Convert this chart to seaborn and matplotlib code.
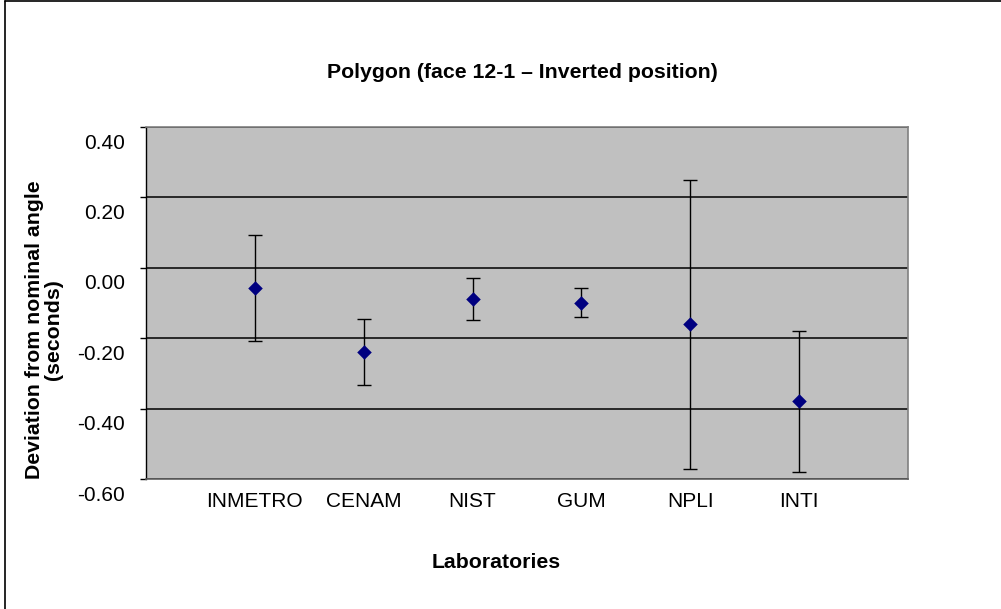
import matplotlib
matplotlib.use("Agg")
import matplotlib.pyplot as plt
import matplotlib.transforms as mtransforms
from matplotlib.lines import Line2D
import seaborn as sns
import pandas as pd

labs = ["INMETRO", "CENAM", "NIST", "GUM", "NPLI", "INTI"]
values = [-0.057, -0.239, -0.088, -0.099, -0.160, -0.379]
uncert = [0.150, 0.093, 0.060, 0.041, 0.410, 0.199]
yticks = [-0.60, -0.40, -0.20, 0.00, 0.20, 0.40]

title = "Polygon (face 12-1 \u2013 Inverted position)"
xlabel = "Laboratories"
ylabel = "Deviation from nominal angle\n(seconds)"

sns.set_theme(style="white")
plt.rcParams['font.family'] = ['Liberation Sans', 'DejaVu Sans']

df = pd.DataFrame({"lab": labs, "value": values, "u": uncert})
df["pos"] = range(1, len(labs) + 1)

fig = plt.figure(figsize=(10.01, 6.09), dpi=100)
fig.patch.set_facecolor("white")
W, H = 1001, 609
ax = fig.add_axes([146 / W, 1 - 479.3 / H, (908 - 146) / W, (479.3 - 127) / H])
ax.set_facecolor("#C0C0C0")

ax.errorbar(df["pos"], df["value"], yerr=df["u"], fmt="none", ecolor="black",
            elinewidth=1.0, capsize=4.7, capthick=1.0, zorder=3)
sns.scatterplot(data=df, x="pos", y="value", marker="D", s=55, color="#000080",
                edgecolor="#000080", linewidth=0, ax=ax, zorder=4, legend=False)

ax.set_xlim(0, 7)
ax.set_ylim(-0.6, 0.4)
ax.set_yticks(yticks)
ax.set_yticklabels([f"{v:.2f}" for v in yticks])
ax.set_xticks(df["pos"])
ax.set_xticklabels(labs)
ax.grid(axis="y", color="black", linewidth=1.1)
ax.grid(axis="x", visible=False)
ax.set_axisbelow(True)

for side in ["top", "right"]:
    ax.spines[side].set_color("#808080")
    ax.spines[side].set_linewidth(1.2)
ax.spines["bottom"].set_color("#606060")
ax.spines["bottom"].set_linewidth(1.2)
ax.spines["left"].set_color("black")
ax.spines["left"].set_linewidth(1.0)

ax.tick_params(axis="y", direction="out", length=4, width=1, color="black",
               pad=11, labelsize=15, labelcolor="black", left=True)
ax.tick_params(axis="x", length=0, pad=9, labelsize=15, labelcolor="black")

off = mtransforms.ScaledTranslation(0, -14 / 100, fig.dpi_scale_trans)
for lbl in ax.get_yticklabels():
    lbl.set_transform(lbl.get_transform() + off)

ax.set_xlabel("")
ax.set_ylabel("")

fig.text(522 / W, 1 - 73 / H, title, ha="center", va="center",
         fontsize=15.3, fontweight="bold", color="black")
fig.text(496 / W, 1 - 563 / H, xlabel, ha="center", va="center",
         fontsize=15.3, fontweight="bold", color="black")
fig.text(44 / W, 1 - 330 / H, ylabel, ha="center", va="center", rotation=90,
         fontsize=15.3, fontweight="bold", color="black", multialignment="center",
         linespacing=1.05)

fig.add_artist(Line2D([5 / W, 5 / W], [0, 1 - 1 / H], transform=fig.transFigure,
                      color="black", linewidth=1.2))
fig.add_artist(Line2D([5 / W, 1], [1 - 1 / H, 1 - 1 / H], transform=fig.transFigure,
                      color="black", linewidth=1.2))

fig.savefig("out.png", dpi=100, facecolor="white")
